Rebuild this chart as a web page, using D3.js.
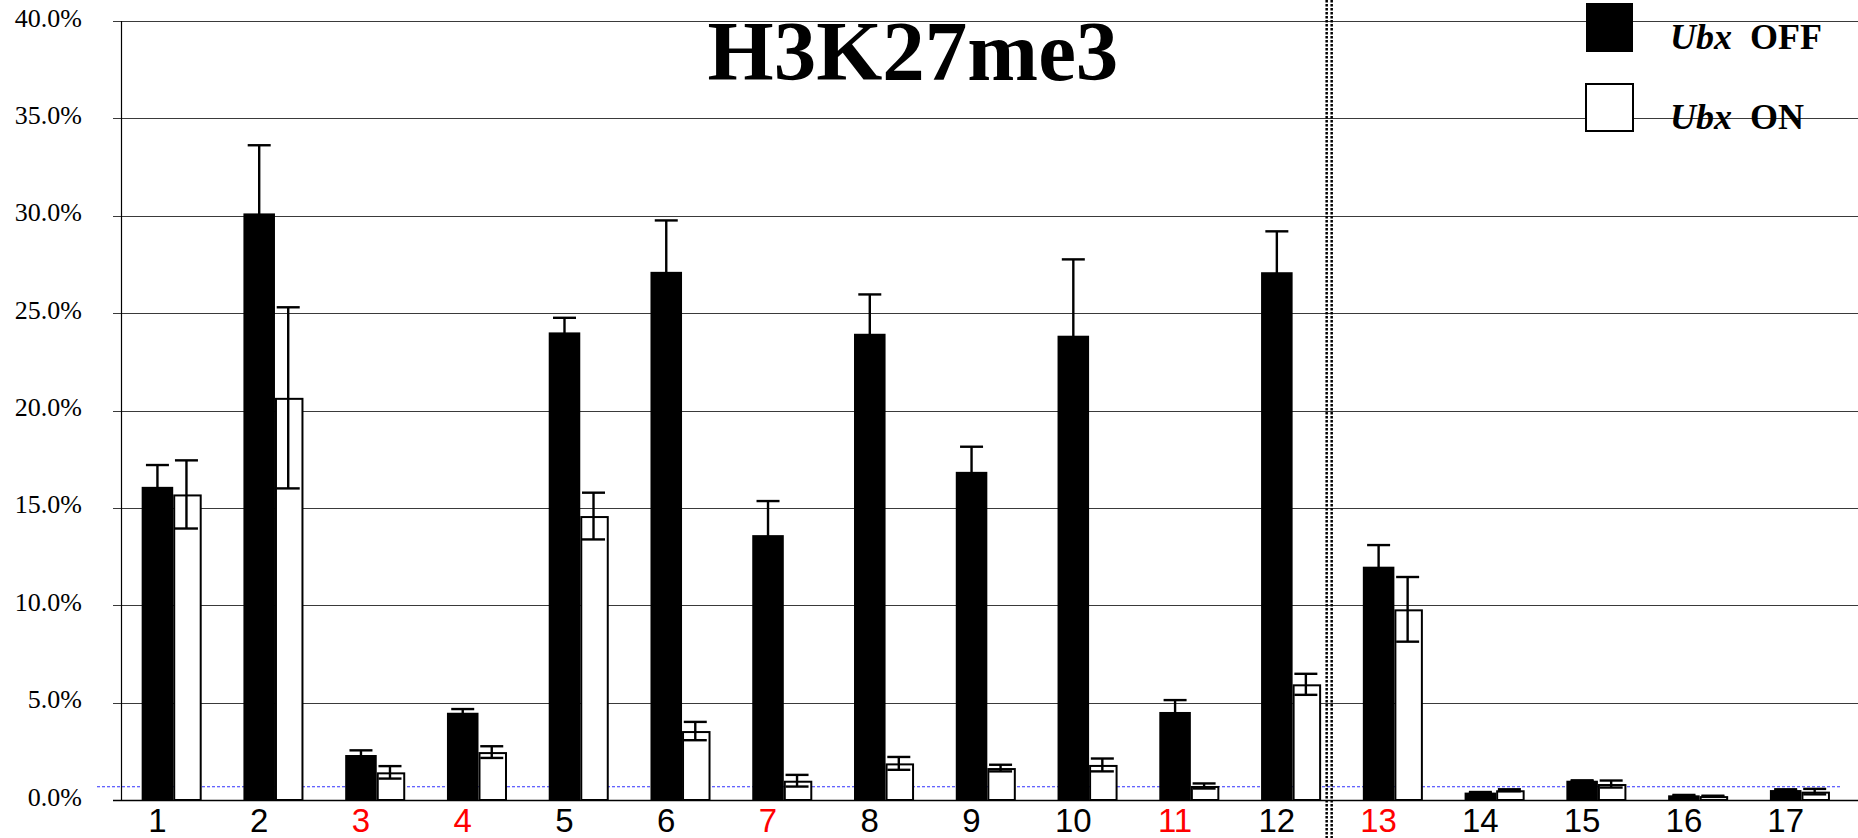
<!DOCTYPE html>
<html>
<head>
<meta charset="utf-8">
<script src="https://cdn.jsdelivr.net/npm/d3@7"></script>
<style>
  html, body { margin: 0; padding: 0; background: #fff; }
  svg { display: block; }
</style>
</head>
<body>
<svg id="chart" width="1858" height="838"></svg>
<script>
const categories = ["1","2","3","4","5","6","7","8","9","10","11","12","13","14","15","16","17"];
const redCategories = ["3","4","7","11","13"];
const offValues = [16.08, 30.12, 2.31, 4.48, 24.01, 27.12, 13.60, 23.94, 16.85, 23.84, 4.52, 27.10, 11.98, 0.38, 0.99, 0.24, 0.51];
const offErrors = [1.12, 3.50, 0.24, 0.19, 0.75, 2.64, 1.75, 2.02, 1.29, 3.92, 0.61, 2.10, 1.11, 0.03, 0.02, 0.02, 0.04];
const onValues  = [15.69, 20.65, 1.42, 2.46, 14.58, 3.54, 0.99, 1.88, 1.64, 1.80, 0.72, 5.94, 9.79, 0.50, 0.82, 0.20, 0.43];
const onErrors  = [1.75, 4.65, 0.32, 0.30, 1.20, 0.47, 0.30, 0.33, 0.17, 0.33, 0.13, 0.54, 1.66, 0.05, 0.18, 0.02, 0.14];
const yTicks = [0, 5, 10, 15, 20, 25, 30, 35, 40];
const thresholdValue = 0.68;
const titleText = "H3K27me3";
const legendItems = [{italic: "Ubx", bold: "OFF", fill: "#000"}, {italic: "Ubx", bold: "ON", fill: "#fff"}];
const separatorBefore = "13";

const W = 1858, H = 838;
const svg = d3.select("#chart");

const x = d3.scaleBand().domain(categories).range([121, 1851]).padding(0);
const y = d3.scaleLinear().domain([0, 40]).range([800, 21]);
const bw = x.bandwidth();
const offX = c => x(c) + bw * 0.203;
const offW = bw * 0.31;
const onX = c => x(c) + bw * 0.203 + offW;
const onW = bw * 0.28;

const serif = "'Liberation Serif', 'Times New Roman', serif";
const sans = "'Liberation Sans', Arial, sans-serif";

// gridlines
svg.append("g").selectAll("line").data(yTicks).join("line")
  .attr("x1", 113).attr("x2", W)
  .attr("y1", d => Math.round(y(d)) + 0.5).attr("y2", d => Math.round(y(d)) + 0.5)
  .attr("stroke", "#3a3a3a").attr("stroke-width", 1);

// y tick labels
svg.append("g").selectAll("text").data(yTicks).join("text")
  .attr("x", 82).attr("y", d => y(d) - 3)
  .attr("text-anchor", "end").attr("dominant-baseline", "central")
  .attr("font-family", serif).attr("font-size", 26).attr("fill", "#000")
  .text(d => d.toFixed(1) + "%");

// y axis line
svg.append("line").attr("x1", 121.5).attr("x2", 121.5).attr("y1", y(40)).attr("y2", y(0))
  .attr("stroke", "#000").attr("stroke-width", 1.2);

// threshold line
svg.append("line").attr("x1", 97).attr("x2", 1842)
  .attr("y1", y(thresholdValue)).attr("y2", y(thresholdValue))
  .attr("stroke", "#3030ff").attr("stroke-width", 1.2).attr("stroke-dasharray", "3,2");

// bars OFF
svg.append("g").selectAll("rect").data(categories).join("rect")
  .attr("x", c => offX(c)).attr("width", offW)
  .attr("y", (c, i) => y(offValues[i])).attr("height", (c, i) => y(0) - y(offValues[i]))
  .attr("fill", "#000");

// bars ON
svg.append("g").selectAll("rect").data(categories).join("rect")
  .attr("x", c => onX(c) + 1).attr("width", onW - 2)
  .attr("y", (c, i) => y(onValues[i]) + 1).attr("height", (c, i) => Math.max(0, y(0) - y(onValues[i]) - 1))
  .attr("fill", "#fff").attr("stroke", "#000").attr("stroke-width", 2);

// error bars
function errorBars(vals, errs, cx) {
  const g = svg.append("g").attr("stroke", "#000").attr("stroke-width", 2.4);
  categories.forEach((c, i) => {
    const xc = cx(c);
    const top = y(vals[i] + errs[i]), bot = y(Math.max(0, vals[i] - errs[i]));
    g.append("line").attr("x1", xc).attr("x2", xc).attr("y1", top).attr("y2", bot);
    g.append("line").attr("x1", xc - 11.5).attr("x2", xc + 11.5).attr("y1", top).attr("y2", top);
    g.append("line").attr("x1", xc - 11.5).attr("x2", xc + 11.5).attr("y1", bot).attr("y2", bot);
  });
}
errorBars(offValues, offErrors, c => offX(c) + offW / 2);
errorBars(onValues, onErrors, c => onX(c) + onW / 2 - 1);

// x axis line
svg.append("line").attr("x1", 113).attr("x2", W).attr("y1", y(0) + 0.5).attr("y2", y(0) + 0.5)
  .attr("stroke", "#000").attr("stroke-width", 1.5);

// category labels
svg.append("g").selectAll("text").data(categories).join("text")
  .attr("x", c => offX(c) + offW / 2).attr("y", 832)
  .attr("text-anchor", "middle")
  .attr("font-family", sans).attr("font-size", 33)
  .attr("fill", c => redCategories.includes(c) ? "#ff0000" : "#000")
  .text(c => c);

// separator (double dotted line)
const sepX = x(separatorBefore) - 13;
[-2.5, 2.5].forEach(dx => {
  svg.append("line").attr("x1", sepX + dx).attr("x2", sepX + dx).attr("y1", 0).attr("y2", H)
    .attr("stroke", "#000").attr("stroke-width", 2.5).attr("stroke-dasharray", "2.5,1.5");
});

// title
svg.append("text").attr("x", 913).attr("y", 80).attr("text-anchor", "middle")
  .attr("font-family", serif).attr("font-weight", "bold").attr("font-size", 85)
  .attr("fill", "#000").text(titleText);

// legend
const lg = svg.append("g");
legendItems.forEach((d, i) => {
  const yy = [3, 83][i];
  lg.append("rect").attr("x", 1586).attr("y", yy + (d.fill === "#fff" ? 1 : 0))
    .attr("width", 47).attr("height", d.fill === "#fff" ? 47 : 49)
    .attr("fill", d.fill).attr("stroke", "#000").attr("stroke-width", d.fill === "#fff" ? 2 : 0);
  const t = lg.append("text").attr("x", 1670).attr("y", [49, 129][i])
    .attr("font-family", serif).attr("font-weight", "bold").attr("font-size", 36).attr("fill", "#000");
  t.append("tspan").attr("font-style", "italic").text(d.italic);
  t.append("tspan").text("\u00a0 " + d.bold);
});
</script>
</body>
</html>
